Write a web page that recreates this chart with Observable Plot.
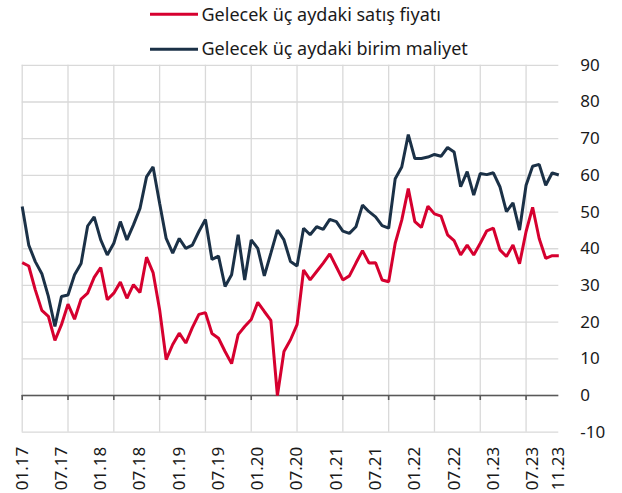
<!DOCTYPE html>
<html>
<head>
<meta charset="utf-8">
<script src="https://cdn.jsdelivr.net/npm/d3@7"></script>
<script src="https://cdn.jsdelivr.net/npm/@observablehq/plot@0.6"></script>
<style>
  html, body { margin: 0; padding: 0; background: #fff; }
  #wrap { position: relative; width: 622px; height: 493px; font-family: "Noto Sans", sans-serif; }
  #legend { position: absolute; left: 0; top: 0; }
</style>
</head>
<body>
<div id="wrap">
  <div id="chart"></div>
  <svg id="legend" width="622" height="62"></svg>
</div>
<script>
// Series names
const seriesNames = ["Gelecek üç aydaki satış fiyatı", "Gelecek üç aydaki birim maliyet"];
const seriesColors = ["#d6002f", "#1b3147"];

// Monthly categories 01.17 ... 11.23
const months = d3.utcMonths(new Date(Date.UTC(2017, 0, 1)), new Date(Date.UTC(2023, 11, 1))).map(d3.utcFormat("%m.%y"));

// Gelecek üç aydaki satış fiyatı
const price = [36.2, 35.3, 28.8, 23.2, 21.6, 15.0, 19.3, 24.9, 20.8, 26.3, 27.9, 32.2,
  34.9, 26.1, 27.9, 30.9, 26.5, 30.2, 28.1, 37.7, 33.5, 23.4, 9.8, 13.9,
  17.0, 14.3, 18.5, 22.1, 22.6, 16.9, 15.6, 12.0, 8.7, 16.6, 18.8, 20.7,
  25.4, 22.9, 20.5, 0.0, 12.0, 15.2, 19.3, 34.2, 31.5, 33.8, 36.1, 38.6,
  35.1, 31.5, 32.6, 36.1, 39.5, 36.1, 36.2, 31.5, 31.0, 41.5, 47.8, 56.4,
  47.4, 45.8, 51.6, 49.5, 48.9, 43.8, 42.2, 38.3, 41.0, 38.3, 41.5, 44.9,
  45.6, 39.7, 37.9, 41.0, 35.9, 44.7, 51.3, 42.8, 37.4, 38.1, 38.1];

// Gelecek üç aydaki birim maliyet
const cost = [51.5, 41.0, 36.5, 33.2, 27.0, 18.8, 27.0, 27.4, 32.9, 36.0, 46.2, 48.7,
  42.4, 38.3, 41.5, 47.4, 42.4, 46.5, 51.0, 59.6, 62.3, 52.4, 42.8, 38.8,
  42.8, 40.1, 41.0, 44.7, 48.0, 37.1, 38.0, 29.7, 32.9, 43.8, 31.5, 42.4,
  40.1, 32.6, 38.8, 45.1, 42.4, 36.5, 35.3, 45.6, 43.8, 46.0, 45.3, 48.0,
  47.4, 44.8, 44.2, 46.0, 51.9, 50.1, 48.7, 46.3, 45.6, 59.1, 62.3, 71.1,
  64.6, 64.6, 65.0, 65.7, 65.2, 67.6, 66.4, 56.9, 61.0, 54.6, 60.5, 60.2,
  60.7, 56.9, 50.1, 52.5, 45.1, 57.3, 62.5, 63.0, 57.3, 60.7, 60.1];

// Axis tick labels
const xTickLabels = ["01.17","07.17","01.18","07.18","01.19","07.19","01.20","07.20","01.21","07.21","01.22","07.22","01.23","07.23","11.23"];
const xGridTicks = ["01.17","08.17","03.18","10.18","05.19","12.19","07.20","02.21","09.21","04.22","11.22","06.23"];
const yTicks = [-10, 0, 10, 20, 30, 40, 50, 60, 70, 80, 90];

const rows = [];
months.forEach((m, i) => {
  rows.push({month: m, value: price[i], series: seriesNames[0]});
  rows.push({month: m, value: cost[i], series: seriesNames[1]});
});

const FONT = "Noto Sans, sans-serif";
const gridColor = "#d9d9d9";

const chart = Plot.plot({
  width: 622,
  height: 493,
  marginLeft: 21.7,
  marginRight: 63.7,
  marginTop: 64.8,
  marginBottom: 61.3,
  style: {fontFamily: FONT, fontSize: "17px", color: "#1a1a1a", background: "#fff"},
  x: {type: "point", domain: months, padding: 0, axis: null},
  y: {domain: [-10, 90], axis: null},
  color: {domain: seriesNames, range: seriesColors},
  marks: [
    Plot.ruleY(yTicks, {stroke: gridColor, strokeWidth: 1.3}),
    Plot.ruleX(xGridTicks, {x: d => d, stroke: gridColor, strokeWidth: 1.3}),
    Plot.ruleY([0], {stroke: "#595959", strokeWidth: 1.6}),
    Plot.ruleX(xGridTicks, {x: d => d, y1: 0, y2: 0, insetBottom: -5, stroke: "#595959", strokeWidth: 1.6}),
    Plot.line(rows, {x: "month", y: "value", z: "series", stroke: "series", strokeWidth: 3, strokeLinejoin: "miter", strokeLinecap: "butt"}),
    Plot.text(yTicks, {y: d => d, frameAnchor: "right", textAnchor: "start", dx: 21.5, text: d => String(d), fontSize: 17, fill: "#1a1a1a"}),
    Plot.text(xTickLabels, {x: d => d, frameAnchor: "bottom", rotate: -90, textAnchor: "end", lineAnchor: "middle", dy: 14.5, text: d => d, fontSize: 17, fill: "#1a1a1a"})
  ]
});
document.getElementById("chart").appendChild(chart);

// Legend (two rows above the plot)
const leg = d3.select("#legend");
const legRows = [{y: 14.3, base: 20.7}, {y: 49.3, base: 55}];
seriesNames.forEach((name, i) => {
  leg.append("line").attr("x1", 150).attr("x2", 198)
    .attr("y1", legRows[i].y).attr("y2", legRows[i].y)
    .attr("stroke", seriesColors[i]).attr("stroke-width", 3);
  leg.append("text").attr("x", 201.5).attr("y", legRows[i].base)
    .attr("font-family", FONT).attr("font-size", 18).attr("fill", "#1a1a1a")
    .text(name);
});
</script>
</body>
</html>
